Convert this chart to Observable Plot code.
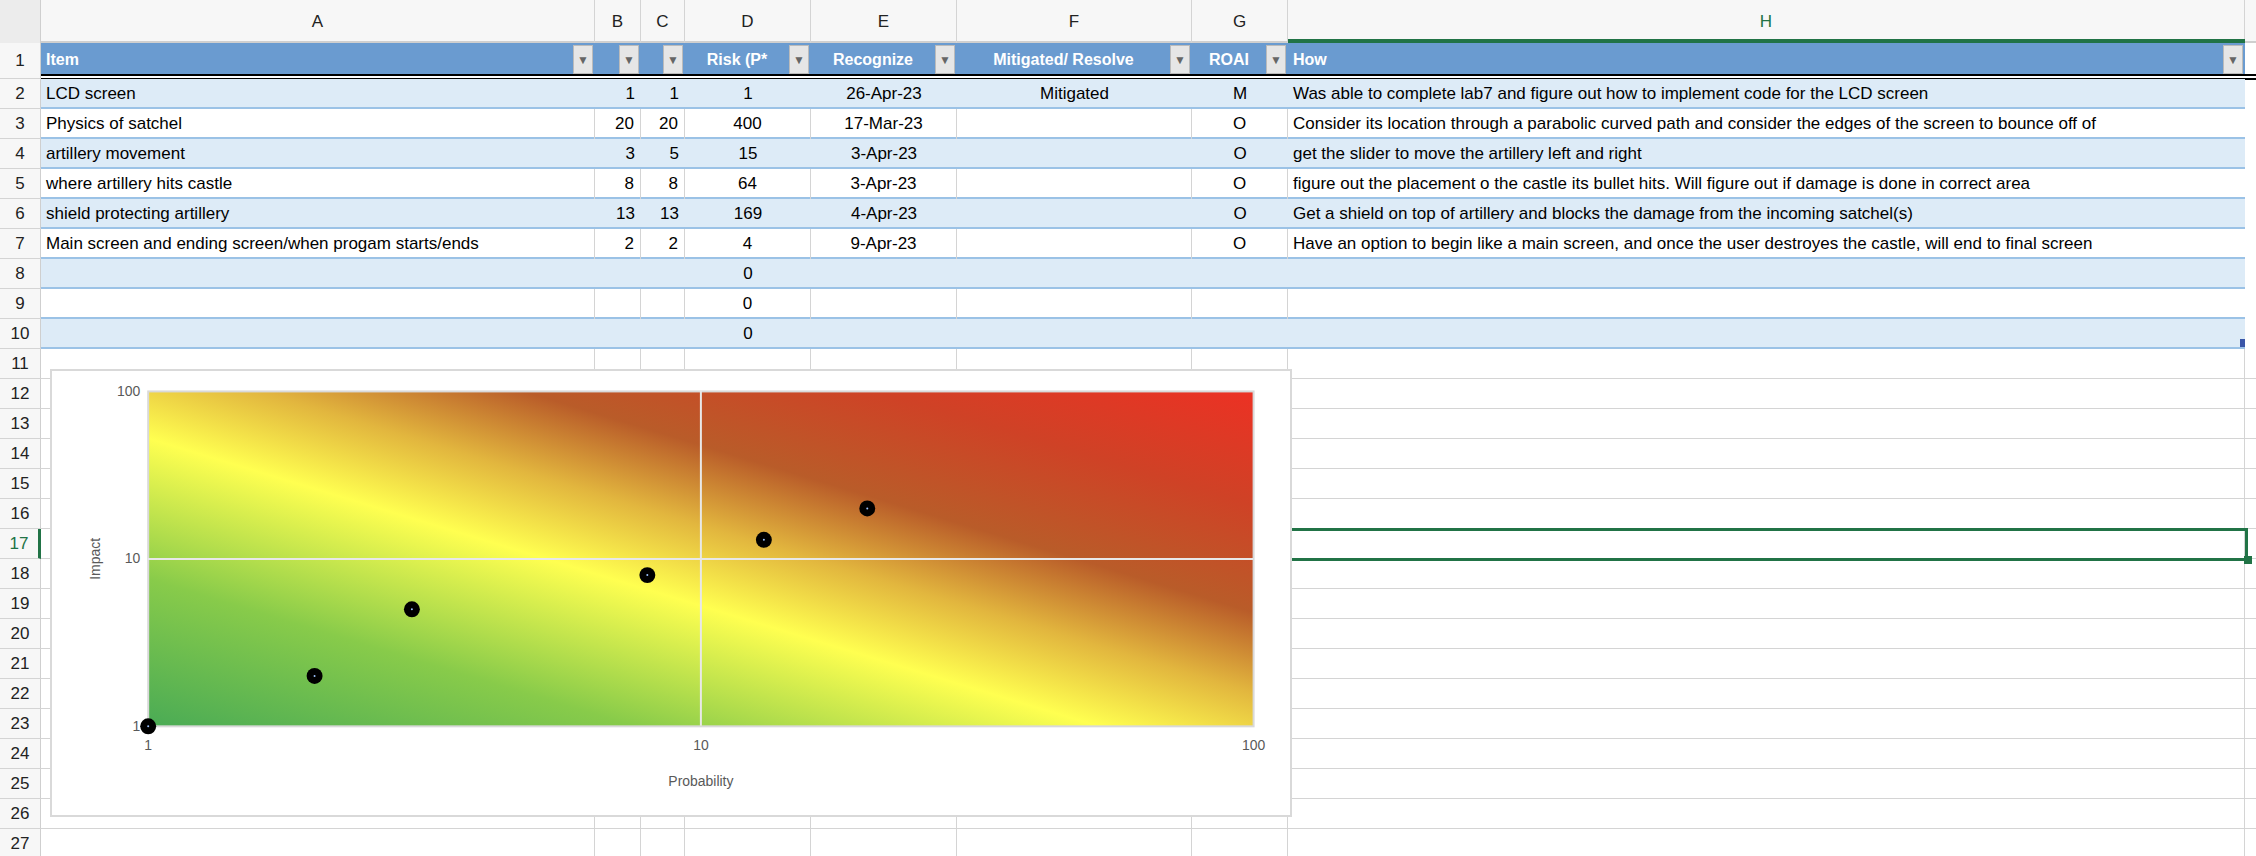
<!DOCTYPE html>
<html><head><meta charset="utf-8">
<script src="https://cdn.jsdelivr.net/npm/d3@7"></script>
<script src="https://cdn.jsdelivr.net/npm/@observablehq/plot@0.6"></script>
<style>
body{margin:0;width:2256px;height:856px;overflow:hidden;background:#fff;font-family:"Liberation Sans",Arial,sans-serif;}
.c{position:absolute;box-sizing:border-box;white-space:nowrap;overflow:hidden;font-size:17px;line-height:30px;color:#000;}
#chart{position:absolute;left:50px;top:369px;width:1242px;height:448px;border:2px solid #d9d9d9;box-sizing:border-box;background:#fff;}
#chart svg{position:absolute;left:-2px;top:-2px;}
</style></head><body>
<div id="sheet"></div>
<div id="chart"></div>
<script>
// spreadsheet contents
const items = ["LCD screen","Physics of satchel","artillery movement","where artillery hits castle","shield protecting artillery","Main screen and ending screen/when progam starts/ends"];
const probability = [1,20,3,8,13,2];
const impact = [1,20,5,8,13,2];
const risk = [1,400,15,64,169,4,0,0,0];
const recognized = ["26-Apr-23","17-Mar-23","3-Apr-23","3-Apr-23","4-Apr-23","9-Apr-23"];
const mitigated = ["Mitigated","","","","",""];
const roam = ["M","O","O","O","O","O"];
const how = ["Was able to complete lab7 and figure out how to implement code for the LCD screen",
 "Consider its location through a parabolic curved path and consider the edges of the screen to bounce off of",
 "get the slider to move the artillery left and right",
 "figure out the placement o the castle its bullet hits. Will figure out if damage is done in correct area",
 "Get a shield on top of artillery and blocks the damage from the incoming satchel(s)",
 "Have an option to begin like a main screen, and once the user destroyes the castle, will end to final screen"];
const headers = ["Item","","","Risk (P*","Recognize","Mitigated/ Resolve","ROAI","How"];
const colLetters = ["A","B","C","D","E","F","G","H"];
const colEdges = [41,595,641,685,811,957,1192,1288,2245];
const aligns = ["left","right","right","center","center","center","center","left"];

const sheet = document.getElementById("sheet");
function div(x,y,w,h,css,text){
  const d=document.createElement("div");d.className="c";
  d.style.cssText=`left:${x}px;top:${y}px;width:${w}px;height:${h}px;`+css;
  if(text!==undefined)d.textContent=text;sheet.appendChild(d);return d;
}
const rowTop = r => r===1?43:(r===2?79:79+(r-2)*30);
// column header strip
div(0,0,2256,43,"background:#f7f7f7;border-bottom:2px solid #cfcfcf;");
div(0,0,41,43,"background:#ececec;border-right:1px solid #cfcfcf;");
colLetters.forEach((l,i)=>div(colEdges[i],0,colEdges[i+1]-colEdges[i],43,
  `text-align:center;line-height:43px;font-size:17px;color:${l==="H"?"#217346":"#222"};border-right:1px solid #d4d4d4;`,l));
div(1288,39,957,4,"background:#217346;");
// body grid
for(let r=1;r<=27;r++){
  const y=rowTop(r), h=r===1?36:30;
  div(0,y,41,h,`text-align:center;line-height:${h}px;font-size:17px;color:${r===17?"#217346":"#222"};background:#f7f7f7;border-right:${r===17?"3px solid #217346":"1px solid #cfcfcf"};border-bottom:1px solid #d4d4d4;`,String(r));
  if(r>=11){
    for(let i=0;i<8;i++)div(colEdges[i],y,colEdges[i+1]-colEdges[i],30,"border-right:1px solid #d4d4d4;border-bottom:1px solid #d4d4d4;");
    div(2245,y,11,30,"border-bottom:1px solid #d4d4d4;");
  }
}
// header row of table
for(let i=0;i<8;i++){
  const x=colEdges[i],w=colEdges[i+1]-colEdges[i];
  div(x,43,w,33,`background:#6a9bd0;color:#fff;font-weight:bold;font-size:16px;line-height:33px;padding-left:${i===0||i===7?5:0}px;text-align:${i===0||i===7?"left":"center"};padding-right:${i===0||i===7?0:22}px;`,headers[i]);
  div(x+w-22,45,20,29,"background:#e6e6e6;border:1px solid #bbb;color:#666;font-size:12px;line-height:29px;text-align:center;","▼");
}
div(41,74,2215,2,"background:#000;");div(41,78,2215,2,"background:#000;");
// table body rows 2..10
for(let k=0;k<9;k++){
  const y=rowTop(k+2);
  div(41,y,2204,30,`background:${k%2===0?"#ddebf7":"#fff"};border-bottom:2px solid #9bc2e6;`);
  const vals=[items[k]??"",probability[k]??"",impact[k]??"",risk[k],recognized[k]??"",mitigated[k]??"",roam[k]??"",how[k]??""];
  vals.forEach((v,i)=>{
    const x=colEdges[i],w=colEdges[i+1]-colEdges[i];
    div(x,y,w,30,`text-align:${aligns[i]};padding:0 ${aligns[i]==="right"?6:5}px;${k%2===1&&i<7?"border-right:1px solid #d4d4d4;":""}`,String(v));
  });
}
div(2240,339,5,8,"background:#3a56a8;");
// selection box H17
div(1288,528,960,33,"border:3px solid #217346;");
div(2244,556,8,8,"background:#217346;");

// chart
const pts = items.map((item,i)=>({item,p:probability[i],imp:impact[i]}));
const ticks = [1,10,100];
const chart = Plot.plot({
  width:1242,height:448,marginLeft:98,marginRight:35,marginTop:22,marginBottom:90,
  style:{fontFamily:"Liberation Sans, Arial",fontSize:"14px",color:"#595959",background:"transparent"},
  x:{type:"log",domain:[1,100],ticks,tickFormat:d=>String(d),tickSize:0,tickPadding:14,label:"Probability",labelAnchor:"center",labelArrow:"none",labelOffset:60},
  y:{type:"log",domain:[1,100],ticks,tickFormat:d=>String(d),tickSize:0,tickPadding:8,label:"Impact",labelAnchor:"center",labelArrow:"none",labelOffset:58},
  marks:[
    Plot.frame({fill:"url(#riskGrad)",stroke:"#d9d9d9",strokeWidth:2}),
    Plot.ruleX([10],{stroke:"#e8e8e8",strokeWidth:2}),
    Plot.ruleY([10],{stroke:"#e8e8e8",strokeWidth:2}),
    Plot.dot(pts,{x:"p",y:"imp",r:8,fill:"#000"}),
    Plot.dot(pts,{x:"p",y:"imp",r:1,fill:"#9ec3ff"})
  ]
});
const defs=d3.select(chart).insert("defs",":first-child");
const g=defs.append("linearGradient").attr("id","riskGrad").attr("x1",0).attr("y1",1).attr("x2",1).attr("y2",0);
[[0,"#4aab55"],[0.22,"#88cb4a"],[0.43,"#ffff50"],[0.55,"#e2b63e"],[0.67,"#b95c29"],[0.83,"#cf4226"],[1,"#ec3124"]]
  .forEach(([o,c])=>g.append("stop").attr("offset",o).attr("stop-color",c));
d3.select("#chart").append(()=>chart);
</script></body></html>
